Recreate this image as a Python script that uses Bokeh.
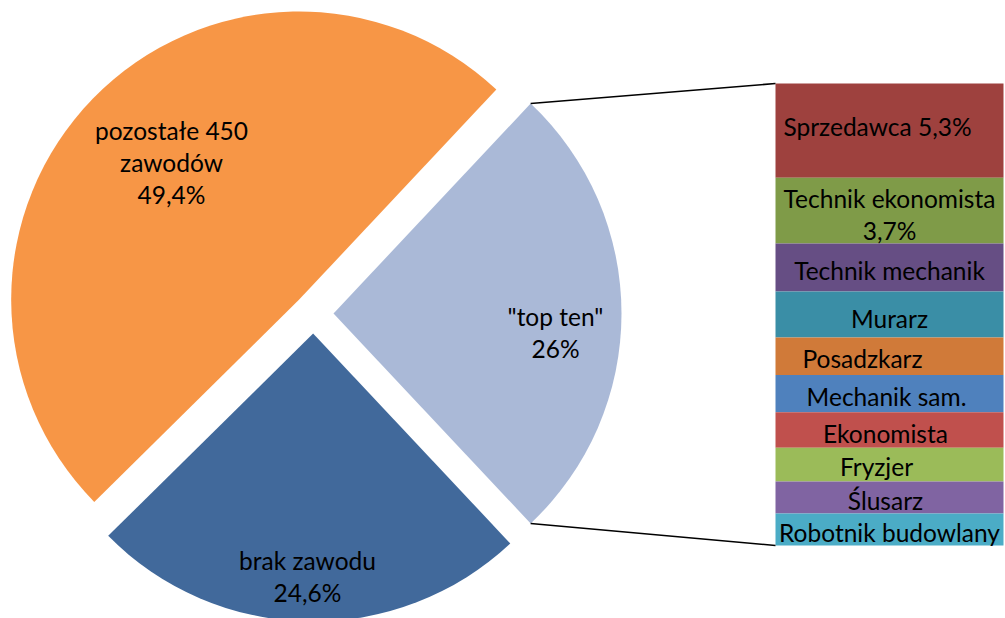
import math
from bokeh.plotting import figure
from bokeh.models import Range1d, ColumnDataSource
from bokeh.embed import file_html
from bokeh.resources import INLINE
from bokeh.core.properties import value

# ---------------- data ----------------
pie_names = ['"top ten"', "pozostałe 450 zawodów", "brak zawodu"]
pie_values = [26.0, 49.4, 24.6]
pie_texts = ['"top ten"\n26%', "pozostałe 450\nzawodów\n49,4%", "brak zawodu\n24,6%"]
pie_colors = ["#AAB9D7", "#F79646", "#41699B"]

bar_names = ["Sprzedawca", "Technik ekonomista", "Technik mechanik", "Murarz",
             "Posadzkarz", "Mechanik sam.", "Ekonomista", "Fryzjer", "Ślusarz",
             "Robotnik budowlany"]
bar_values = [5.3, 3.7, 2.7, 2.6, 2.1, 2.1, 2.0, 1.9, 1.8, 1.8]
bar_texts = ["Sprzedawca 5,3%", "Technik ekonomista\n3,7%", "Technik mechanik", "Murarz",
             "Posadzkarz", "Mechanik sam.", "Ekonomista", "Fryzjer", "Ślusarz",
             "Robotnik budowlany"]
bar_colors = ["#9E413E", "#7F9B48", "#664E84", "#3A8EA6", "#D07A39",
              "#4F81BD", "#C0504D", "#9BBB59", "#8064A2", "#4BACC6"]

# ---------------- layout (pixel-like coordinates, y downward negated) ----------------
W, H = 1005, 618
CX, CY = 313, 313          # pie centre
R = 288                    # pie radius
EXPLODE = 20               # explosion distance
BAR_LEFT, BAR_RIGHT = 775, 1003
BAR_TOP, BAR_BOTTOM = 83, 545
FONT = "Lato"
FS = 24.5
LH = 32 / (FS * 1.2)

# label placement (layout only)
pie_label_pos = [(555, 332), (171, 162), (307, 576)]
bar_label_dx = [-12, 0, 0, 0, -27, -3, -4, -13, -4, 0]
bar_label_dy = [-4, 4, 3, 4, 2, 3, 3, 2, 3, 3]

p = figure(width=W, height=H, x_range=Range1d(0, W), y_range=Range1d(-H, 0),
           x_axis_type=None, y_axis_type=None, toolbar_location=None, output_backend="svg",
           min_border=0, outline_line_color=None, background_fill_color="white",
           border_fill_color="white")
p.grid.visible = False

# ---- pie ----
total = sum(pie_values)
start = -math.pi * pie_values[0] / total
wx, wy, sa, ea, corners = [], [], [], [], []
a = start
for v in pie_values:
    span = 2 * math.pi * v / total
    mid = a + span / 2
    vx = CX + EXPLODE * math.cos(mid)
    vy = -CY + EXPLODE * math.sin(mid)
    wx.append(vx); wy.append(vy); sa.append(a); ea.append(a + span)
    corners.append(((vx + R * math.cos(a), vy + R * math.sin(a)),
                    (vx + R * math.cos(a + span), vy + R * math.sin(a + span))))
    a += span

p.wedge(x=wx, y=wy, radius=R, start_angle=sa, end_angle=ea,
        fill_color=pie_colors, line_color=None)

p.text(x=[q[0] for q in pie_label_pos], y=[-q[1] for q in pie_label_pos], text=pie_texts,
       text_align="center", text_baseline="middle", text_font=value(FONT),
       text_font_size=f"{FS}px", text_color="black", text_line_height=LH)

# ---- bar ----
btotal = sum(bar_values)
k = (BAR_BOTTOM - BAR_TOP) / btotal
p.extra_y_ranges = {"bar": Range1d((BAR_BOTTOM - H) / k, BAR_BOTTOM / k)}

tops, bottoms = [], []
cum = btotal
for v in bar_values:
    tops.append(cum)
    bottoms.append(cum - v)
    cum -= v
src = ColumnDataSource(dict(top=tops, bottom=bottoms, color=bar_colors,
                            mid=[(t + b) / 2 - dy / k for t, b, dy in zip(tops, bottoms, bar_label_dy)],
                            text=bar_texts,
                            x=[(BAR_LEFT + BAR_RIGHT) / 2 + d for d in bar_label_dx]))
p.quad(left=BAR_LEFT, right=BAR_RIGHT, top="top", bottom="bottom", fill_color="color",
       line_color=None, source=src, y_range_name="bar")
p.text(x="x", y="mid", text="text", source=src, y_range_name="bar",
       text_align="center", text_baseline="middle", text_font=value(FONT),
       text_font_size=f"{FS}px", text_color="black", text_line_height=LH)

# ---- connector lines from the "top ten" slice to the bar ----
(c0x, c0y), (c1x, c1y) = corners[0]
p.segment(x0=[c1x, c0x], y0=[c1y, c0y], x1=[BAR_LEFT, BAR_LEFT], y1=[-BAR_TOP, -BAR_BOTTOM],
          line_color="black", line_width=1.6)

open("out.html", "w").write(file_html(p, INLINE))
